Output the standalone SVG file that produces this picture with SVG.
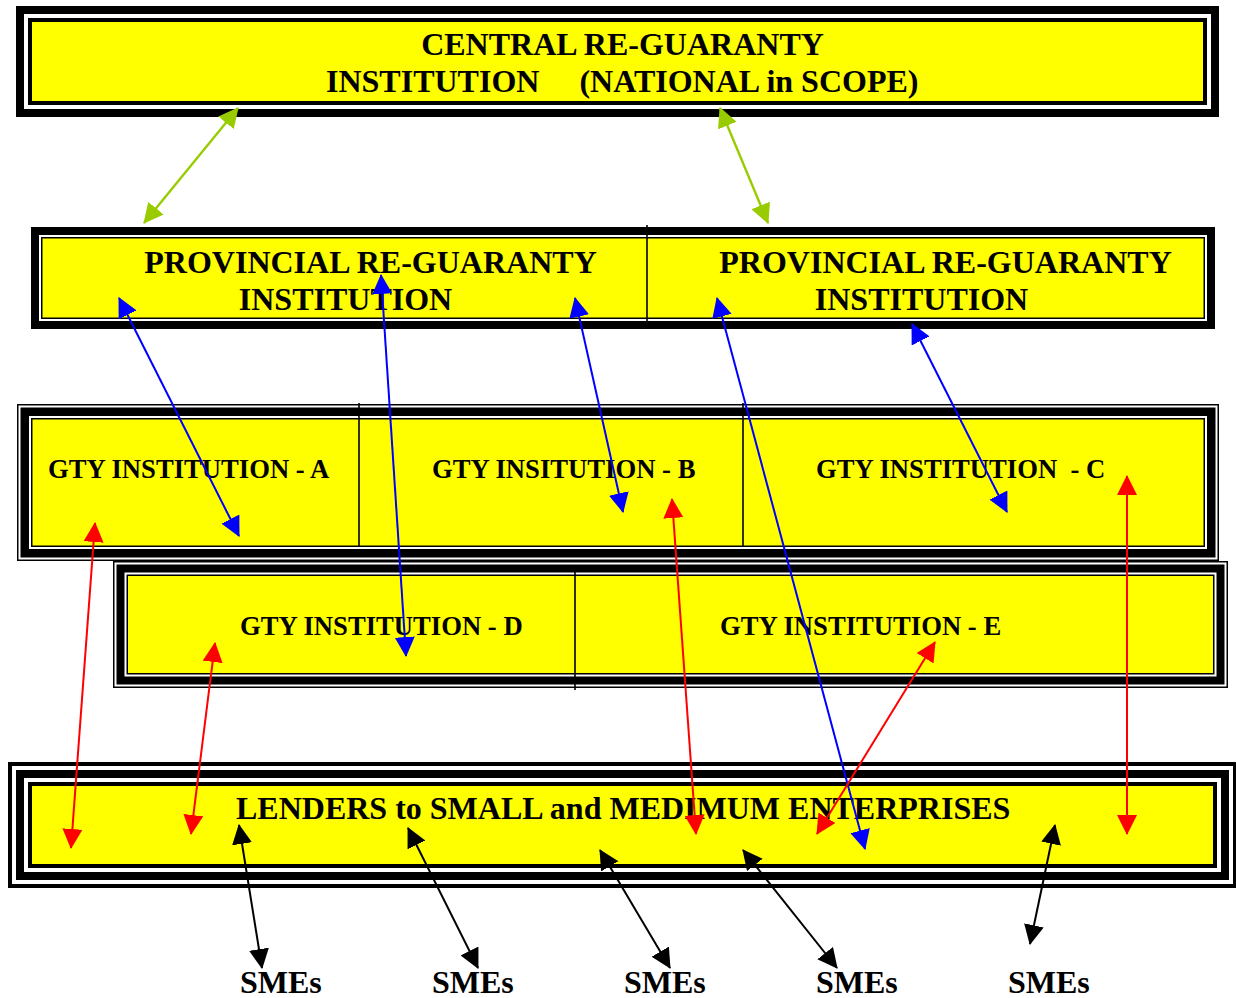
<svg xmlns="http://www.w3.org/2000/svg" width="1236" height="998" viewBox="0 0 1236 998">
<style>
.t{font-family:"Liberation Serif","Times New Roman",serif;font-weight:bold;fill:#000;}
.big{font-size:32px;}
.gty{font-size:26.67px;}
.k{fill:#000;}
.w{fill:#fff;}
.y{fill:#ffff00;}
.div{stroke:#000;stroke-width:1.6;}
.c{fill:none;stroke-width:2;}
.g{stroke:#99cc00;stroke-width:2.4;marker-start:url(#mg);marker-end:url(#mg);}
.b{stroke:#0000ff;marker-start:url(#mb);marker-end:url(#mb);}
.r{stroke:#ff0000;marker-start:url(#mr);marker-end:url(#mr);}
.bk{stroke:#000;marker-start:url(#mk);marker-end:url(#mk);}
</style>
<defs>
<marker id="mg" viewBox="0 0 20 20" markerWidth="20" markerHeight="20" markerUnits="userSpaceOnUse" refX="19" refY="10" orient="auto-start-reverse"><path d="M0,0 L20,10 L0,20 z" fill="#99cc00"/></marker>
<marker id="mb" viewBox="0 0 20 20" markerWidth="20" markerHeight="20" markerUnits="userSpaceOnUse" refX="19" refY="10" orient="auto-start-reverse"><path d="M0,0 L20,10 L0,20 z" fill="#0000ff"/></marker>
<marker id="mr" viewBox="0 0 20 20" markerWidth="20" markerHeight="20" markerUnits="userSpaceOnUse" refX="19" refY="10" orient="auto-start-reverse"><path d="M0,0 L20,10 L0,20 z" fill="#ff0000"/></marker>
<marker id="mk" viewBox="0 0 20 20" markerWidth="20" markerHeight="20" markerUnits="userSpaceOnUse" refX="19" refY="10" orient="auto-start-reverse"><path d="M0,0 L20,10 L0,20 z" fill="#000"/></marker>
</defs>
<rect width="1236" height="998" fill="#fff"/>

<g id="central">
<rect class="k" x="16" y="6" width="1203" height="111"/>
<rect class="w" x="24" y="14" width="1187" height="95"/>
<rect class="k" x="28" y="18" width="1179" height="87"/>
<rect class="y" x="32" y="22" width="1171" height="79"/>
<text class="t big" x="622.5" y="55" text-anchor="middle">CENTRAL RE-GUARANTY</text>
<text class="t big" x="326" y="92" xml:space="preserve">INSTITUTION     (NATIONAL in SCOPE)</text>
</g>

<g id="provincial">
<rect class="k" x="31" y="227" width="1184" height="102"/>
<rect class="w" x="39" y="235" width="1168" height="86"/>
<rect class="k" x="41" y="237" width="1164" height="82"/>
<rect class="y" x="42.5" y="238.5" width="1161" height="79"/>
<line class="div" x1="647" y1="225" x2="647" y2="322"/>
</g>
<g id="prov-left">
<text class="t big" x="370.5" y="273" text-anchor="middle">PROVINCIAL RE-GUARANTY</text>
<text class="t big" x="345.5" y="310" text-anchor="middle">INSTITUTION</text>
</g>
<g id="prov-right">
<text class="t big" x="945.5" y="273" text-anchor="middle">PROVINCIAL RE-GUARANTY</text>
<text class="t big" x="921.5" y="310" text-anchor="middle">INSTITUTION</text>
</g>

<g id="gty-abc">
<rect class="k" x="17" y="404" width="1202" height="157"/>
<rect class="w" x="18.5" y="405.5" width="1199" height="154"/>
<rect class="k" x="20.5" y="407.5" width="1195" height="150"/>
<rect class="w" x="29" y="416" width="1178" height="133"/>
<rect class="k" x="31" y="418" width="1174" height="129"/>
<rect class="y" x="32.5" y="419.5" width="1171" height="126"/>
<line class="div" x1="359" y1="403" x2="359" y2="547"/>
<line class="div" x1="743" y1="403" x2="743" y2="547"/>
</g>
<g id="gty-a"><text class="t gty" x="48" y="478">GTY INSTITUTION - A</text></g>
<g id="gty-b"><text class="t gty" x="432" y="478">GTY INSITUTION - B</text></g>
<g id="gty-c"><text class="t gty" x="816" y="478" xml:space="preserve">GTY INSTITUTION  - C</text></g>

<g id="gty-de">
<rect class="k" x="113" y="561" width="1115" height="127"/>
<rect class="w" x="114.5" y="562.5" width="1112" height="124"/>
<rect class="k" x="116.5" y="564.5" width="1108" height="120"/>
<rect class="w" x="124.5" y="572.5" width="1092" height="104"/>
<rect class="k" x="126.5" y="574.5" width="1088" height="100"/>
<rect class="y" x="128" y="576" width="1085" height="97"/>
<line class="div" x1="575" y1="572" x2="575" y2="690"/>
</g>
<g id="gty-d"><text class="t gty" x="240" y="635">GTY INSTITUTION - D</text></g>
<g id="gty-e"><text class="t gty" x="720" y="635">GTY INSTITUTION - E</text></g>

<g id="lenders">
<rect class="k" x="8" y="762" width="1229" height="126"/>
<rect class="w" x="12" y="766" width="1221" height="118"/>
<rect class="k" x="16" y="770" width="1213" height="110"/>
<rect class="w" x="24" y="778" width="1197" height="94"/>
<rect class="k" x="28" y="782" width="1189" height="86"/>
<rect class="y" x="32" y="786" width="1181" height="78"/>
<text class="t big" x="236" y="819">LENDERS to SMALL and MEDIMUM ENTERPRISES</text>
</g>

<g id="smes">
<text class="t big" x="240" y="993">SMEs</text>
<text class="t big" x="432" y="993">SMEs</text>
<text class="t big" x="624" y="993">SMEs</text>
<text class="t big" x="816" y="993">SMEs</text>
<text class="t big" x="1008" y="993">SMEs</text>
</g>

<g id="connectors">
<line class="c g" x1="238" y1="108" x2="144" y2="223"/>
<line class="c g" x1="720" y1="108" x2="768" y2="223"/>

<line class="c b" x1="119" y1="298" x2="239" y2="536"/>
<line class="c b" x1="381" y1="275" x2="406" y2="656"/>
<line class="c b" x1="575" y1="298" x2="623" y2="512"/>
<line class="c b" x1="717" y1="298" x2="865" y2="849"/>
<line class="c b" x1="912" y1="324" x2="1007" y2="512"/>

<line class="c r" x1="95" y1="523" x2="71" y2="848"/>
<line class="c r" x1="215" y1="643" x2="191" y2="834"/>
<line class="c r" x1="672" y1="499" x2="696" y2="834"/>
<line class="c r" x1="935" y1="642" x2="817" y2="834"/>
<line class="c r" x1="1127" y1="476" x2="1127" y2="834"/>

<line class="c bk" x1="239" y1="825" x2="262" y2="968"/>
<line class="c bk" x1="408" y1="828" x2="478" y2="968"/>
<line class="c bk" x1="600" y1="850" x2="670" y2="968"/>
<line class="c bk" x1="743" y1="850" x2="837" y2="968"/>
<line class="c bk" x1="1055" y1="825" x2="1030" y2="944"/>
</g>
</svg>
